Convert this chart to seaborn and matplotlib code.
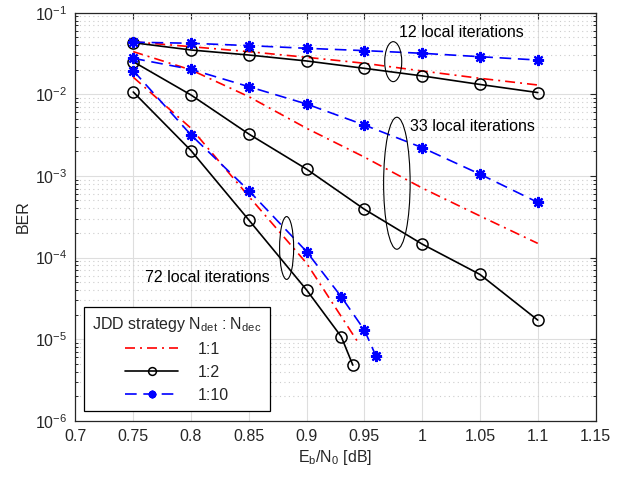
import numpy as np
import pandas as pd
import matplotlib
matplotlib.use("Agg")
import matplotlib.pyplot as plt
from matplotlib.patches import Ellipse
from matplotlib.ticker import LogLocator, NullFormatter, FixedLocator
import seaborn as sns

# Eb/N0 grid points [dB]
ebn0_12 = [0.75, 0.80, 0.85, 0.90, 0.95, 1.00, 1.05, 1.10]
ebn0_33 = [0.75, 0.80, 0.85, 0.90, 0.95, 1.00, 1.05, 1.10]
ebn0_72_r11 = [0.75, 0.80, 0.85, 0.90, 0.945]
ebn0_72_r12 = [0.75, 0.80, 0.85, 0.90, 0.93, 0.94]
ebn0_72_r110 = [0.75, 0.80, 0.85, 0.90, 0.93, 0.95, 0.96]

# BER, 12 local iterations
ber_12_r11 = [0.044, 0.0383, 0.0333, 0.0284, 0.0240, 0.0193, 0.0157, 0.0130]
ber_12_r12 = [0.0429, 0.0349, 0.0303, 0.0256, 0.0208, 0.0168, 0.0132, 0.0105]
ber_12_r110 = [0.0435, 0.0422, 0.0395, 0.0366, 0.0343, 0.0318, 0.0289, 0.0263]

# BER, 33 local iterations
ber_33_r11 = [0.0333, 0.0199, 0.00935, 0.00383, 0.0017, 7.1e-4, 3.23e-4, 1.49e-4]
ber_33_r12 = [0.0251, 0.0098, 0.00326, 0.00121, 3.9e-4, 1.46e-4, 6.2e-5, 1.71e-5]
ber_33_r110 = [0.0276, 0.0202, 0.0124, 0.0076, 0.0042, 0.00222, 0.00105, 4.74e-4]

# BER, 72 local iterations
ber_72_r11 = [0.0162, 0.00383, 5.6e-4, 8.5e-5, 8.9e-6]
ber_72_r12 = [0.01067, 0.00204, 2.88e-4, 4.0e-5, 1.07e-5, 4.8e-6]
ber_72_r110 = [0.0195, 0.00317, 6.6e-4, 1.18e-4, 3.3e-5, 1.29e-5, 6.2e-6]

strategy_labels = ["1:1", "1:2", "1:10"]
x_ticks = [0.7, 0.75, 0.8, 0.85, 0.9, 0.95, 1.0, 1.05, 1.1, 1.15]
x_tick_labels = ["0.7", "0.75", "0.8", "0.85", "0.9", "0.95", "1", "1.05", "1.1", "1.15"]
y_ticks = [1e-6, 1e-5, 1e-4, 1e-3, 1e-2, 1e-1]
y_tick_labels = [r"$\mathregular{10^{-6}}$", r"$\mathregular{10^{-5}}$",
                 r"$\mathregular{10^{-4}}$", r"$\mathregular{10^{-3}}$",
                 r"$\mathregular{10^{-2}}$", r"$\mathregular{10^{-1}}$"]
group_labels = ["12 local iterations", "33 local iterations", "72 local iterations"]

sns.set_style("white")
plt.rcParams["font.family"] = ["Liberation Sans", "DejaVu Sans"]
plt.rcParams["mathtext.fontset"] = "custom"
plt.rcParams["mathtext.rm"] = "Liberation Sans"
plt.rcParams["mathtext.it"] = "Liberation Sans:italic"
plt.rcParams["mathtext.bf"] = "Liberation Sans:bold"

FS = 11.5
AX_COL = "#262626"

fig = plt.figure(figsize=(6.27, 4.79), dpi=100)
fig.patch.set_facecolor("white")
ax = fig.add_axes([0.1204, 0.1217, 0.8294, 0.8518])

styles = {
    "1:1": dict(color="#ff0000", linestyle=(0, (6, 3, 1.2, 3)), marker=None),
    "1:2": dict(color="black", linestyle="-", marker="o", markersize=8,
                markerfacecolor="none", markeredgewidth=1.1, markeredgecolor="black"),
    "1:10": dict(color="#0000ff", linestyle=(0, (7, 4)), marker=(8, 2, 0),
                 markersize=8, markeredgewidth=1.6, markeredgecolor="#0000ff"),
}

series = [
    (ebn0_12, ber_12_r11, "1:1"), (ebn0_12, ber_12_r12, "1:2"), (ebn0_12, ber_12_r110, "1:10"),
    (ebn0_33, ber_33_r11, "1:1"), (ebn0_33, ber_33_r12, "1:2"), (ebn0_33, ber_33_r110, "1:10"),
    (ebn0_72_r11, ber_72_r11, "1:1"), (ebn0_72_r12, ber_72_r12, "1:2"),
    (ebn0_72_r110, ber_72_r110, "1:10"),
]

handles = {}
for xs, ys, strat in series:
    df = pd.DataFrame({"ebn0": xs, "ber": ys})
    before = len(ax.lines)
    sns.lineplot(data=df, x="ebn0", y="ber", ax=ax, linewidth=1.2,
                 estimator=None, sort=False, **styles[strat])
    handles.setdefault(strat, ax.lines[before])

ax.set_yscale("log")
ax.set_xlim(0.7, 1.15)
ax.set_ylim(1e-6, 1e-1)

ax.xaxis.set_major_locator(FixedLocator(x_ticks))
ax.set_xticklabels(x_tick_labels)
ax.yaxis.set_major_locator(FixedLocator(y_ticks))
ax.set_yticklabels(y_tick_labels)
ax.yaxis.set_minor_locator(LogLocator(base=10, subs=np.arange(2, 10), numticks=20))
ax.yaxis.set_minor_formatter(NullFormatter())

ax.grid(True, which="major", color="#dedede", linewidth=0.8, linestyle="-")
ax.grid(True, which="minor", axis="y", color="#cdcdcd", linewidth=0.8,
        linestyle=(0, (1, 3)))
ax.set_axisbelow(True)

for sp in ax.spines.values():
    sp.set_color(AX_COL)
    sp.set_linewidth(0.9)
    sp.set_visible(True)

ax.tick_params(axis="both", which="major", direction="in", length=4, width=0.8,
               top=True, right=True, colors=AX_COL, labelsize=FS, pad=6,
               labelcolor=AX_COL)
ax.tick_params(axis="y", which="minor", direction="in", length=2.2, width=0.7,
               left=True, right=True, colors=AX_COL)
ax.tick_params(axis="x", which="minor", bottom=False, top=False)

ax.set_xlabel(r"$\mathregular{E_b/N_0}$ [dB]", fontsize=FS, color=AX_COL, labelpad=3)
ax.set_ylabel("BER", fontsize=FS, color=AX_COL, labelpad=3)

# Group annotations
ax.text(0.7413, 0.952, group_labels[0], transform=ax.transAxes, fontsize=FS,
        ha="center", va="center", color="black")
ax.text(0.7635, 0.7206, group_labels[1], transform=ax.transAxes, fontsize=FS,
        ha="center", va="center", color="black")
ax.text(0.2538, 0.3505, group_labels[2], transform=ax.transAxes, fontsize=FS,
        ha="center", va="center", color="black")

for (cx, cy, w, h) in [(0.611, 0.880, 0.0327, 0.098),
                       (0.618, 0.582, 0.051, 0.3235),
                       (0.406, 0.4233, 0.027, 0.154)]:
    ax.add_patch(Ellipse((cx, cy), w, h, transform=ax.transAxes, fill=False,
                         edgecolor="black", linewidth=0.8, zorder=5))

leg = ax.legend([handles[s] for s in strategy_labels], strategy_labels,
                title=r"JDD strategy $\mathregular{N_{det}}$ : $\mathregular{N_{dec}}$",
                loc="lower left", bbox_to_anchor=(0.0169, 0.0238), borderaxespad=0,
                fontsize=FS, title_fontsize=FS, frameon=True, fancybox=False,
                handlelength=3.3, handletextpad=1.2, labelspacing=0.5,
                borderpad=0.5, framealpha=1, markerscale=0.7)
leg.get_frame().set_edgecolor("black")
leg.get_frame().set_linewidth(0.9)

fig.savefig("out.png", dpi=100, facecolor="white")
